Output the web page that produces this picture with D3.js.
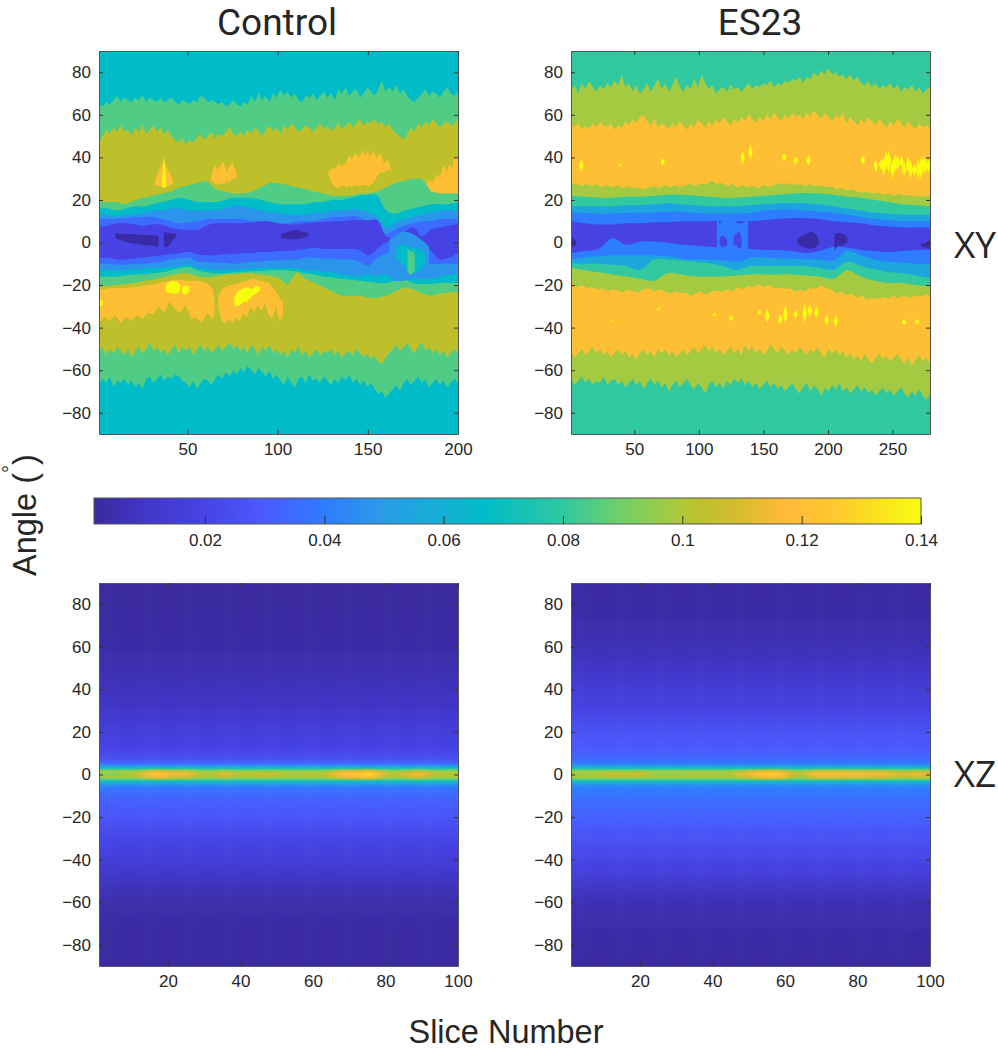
<!DOCTYPE html>
<html lang="en">
<head>
<meta charset="utf-8">
<title>Control vs ES23</title>
<script src="https://d3js.org/d3.v7.min.js"></script>
<style>
  body { margin: 0; background: #fff; }
  text { fill: #262626; }
  .tick text { font-family: "Liberation Sans", Arial, sans-serif; font-size: 17px; }
  .title { font-family: "Roboto", sans-serif; }
  .side { font-family: "Open Sans", sans-serif; }
  .label { font-family: "Liberation Sans", Arial, sans-serif; }
</style>
</head>
<body>
<script>
// colour bar
var colorValues = [0.0014, 0.01, 0.02, 0.03, 0.04, 0.05, 0.06, 0.067, 0.08, 0.09, 0.1, 0.103, 0.11, 0.117, 0.125, 0.14];
var colorStops = ["#3a2a9f", "#4136c8", "#4644e6", "#4a5bff", "#2f7bff", "#2a9ce6", "#14b0d4", "#00bcc8", "#30c8a0", "#72d068", "#b0c838", "#bdc02c", "#d8bc30", "#ffba3a", "#ffc630", "#f8fc10"];
var colorTicks = [0.02, 0.04, 0.06, 0.08, 0.1, 0.12, 0.14];
var angleTicks = [-80, -60, -40, -20, 0, 20, 40, 60, 80];

// XY Control: contour band edges, evenly spread over slices 1-200
var ctrlGreenTop = [65,64,66,65,67,69,66,68,67,66,68,67,69,66,68,67,66,68,66,67,68,66,65,67,66,65,67,66,69,68,66,67,66,65,66,64,65,67,65,64,66,65,69,66,70,67,69,66,70,68,72,69,71,68,70,67,66,69,68,70,67,69,71,68,70,67,72,70,73,69,71,72,68,70,73,71,69,72,76,71,73,71,74,70,72,69,67,66,68,70,72,69,71,70,68,71,73,70,69,71];
var ctrlGreenBot = [-67,-64,-66,-63,-68,-65,-66,-64,-67,-65,-68,-66,-69,-64,-63,-66,-64,-62,-65,-63,-64,-62,-63,-65,-66,-68,-65,-69,-66,-64,-65,-67,-64,-62,-64,-61,-63,-60,-62,-59,-61,-58,-60,-62,-59,-61,-63,-60,-64,-62,-65,-67,-63,-66,-68,-64,-63,-66,-62,-65,-64,-66,-63,-65,-67,-64,-66,-63,-65,-62,-66,-64,-67,-65,-68,-66,-69,-71,-70,-73,-71,-69,-67,-70,-66,-64,-67,-65,-63,-66,-64,-68,-66,-64,-67,-65,-68,-66,-64,-66];
var ctrlOliveTop = [47,50,53,51,54,52,55,52,53,50,54,52,55,51,53,55,52,54,51,53,50,48,47,49,46,48,47,49,51,48,50,52,49,51,50,52,54,51,50,52,50,53,51,54,52,50,53,55,52,54,51,55,53,56,54,52,53,55,54,52,54,56,53,55,52,54,56,53,55,57,54,56,58,55,57,56,58,55,57,54,56,53,51,50,48,51,54,52,56,54,57,55,58,56,54,56,57,55,56,58];
var ctrlOliveBot = [-52,-49,-53,-50,-52,-49,-51,-53,-50,-54,-51,-49,-52,-50,-47,-51,-49,-52,-50,-53,-50,-48,-52,-49,-51,-49,-53,-50,-48,-51,-49,-52,-50,-48,-51,-49,-47,-50,-48,-51,-49,-52,-48,-50,-53,-49,-51,-48,-52,-50,-53,-51,-54,-50,-52,-49,-53,-51,-54,-52,-50,-53,-51,-52,-50,-53,-51,-54,-52,-51,-53,-50,-52,-54,-52,-55,-53,-56,-57,-54,-52,-50,-48,-51,-49,-47,-50,-52,-49,-47,-51,-49,-52,-50,-53,-51,-54,-52,-50,-52];
var ctrlInGreenTop = [19,19,19,18,20,21,22,23,24,26,27,28,29,25,24,23,23,24,26,28,28,27,26,25,24,23,22,22,22,23,23,24,26,28,29,30,30,24,23,23,23];
var ctrlInGreenBot = [-20.5,-20.5,-20,-19.5,-19,-18,-17.5,-16.5,-15.5,-14.5,-14.5,-16,-16.5,-16,-15,-15,-14.5,-14.5,-15,-15.5,-16.5,-20,-14,-17,-19,-21,-23,-25,-25,-25,-26,-26,-25,-23,-21,-22,-24,-25,-24,-23.5,-23];
var ctrlTealTop = [16,16,15,16,17,17,18,19,20,21,20,19,19,19,20,21,21,21,20,19,18,18,18,18,19,19,20,20,21,22,22.5,22,15,13.5,15,16,17,18,18,18,19];
var ctrlTealBot = [-16,-16,-16,-15.5,-15,-15,-14.5,-14,-13,-12,-11.5,-13,-14,-14.5,-14.5,-14,-14,-13.5,-13.5,-13,-13,-13,-13.5,-14.5,-15,-16,-16.5,-17,-17.5,-18,-18.5,-19,-19,-18,-17,-19,-19.5,-19.5,-19,-19,-19];
var ctrlSkyTop = [13,13,12,13,13,14,15,15,16,16,15,15,15,15,16,17,17,16,15,14,14,13,13,13,14,14,15,15,15.5,15.5,14,12,7,9,11,12,13,14,15,15,15];
var ctrlSkyBot = [-13,-13,-13,-13,-12.5,-12.5,-12,-12,-11.5,-11,-10.5,-12,-12.5,-13,-13,-13,-12.5,-12.5,-12,-12,-12,-12,-12,-13,-13,-14,-14,-15,-15.5,-16,-15,-16,-15,-18,-18,-17,-17,-17,-16,-15,-15];
var ctrlBlueTop = [11,11,11,11.5,12,12,12,11,10,9,9.5,10,11,11,11,11,11,10,10,9,9,9,10,10,10,11,12,12,12.5,12,9,7,4,6,8,9,10,10,11,11,11];
var ctrlBlueBot = [-10,-10,-10.5,-10.5,-10,-10,-9.5,-9,-8,-7.5,-7,-9,-9,-9.5,-9.5,-10,-9.5,-9,-9,-8.5,-8.5,-8,-8,-7,-7,-7.5,-7.5,-8,-8,-9,-11,-7,-5,-3,-4,-7,-9,-10,-10,-10,-10];
var ctrlIndigoTop = [7.5,8,9,9,8.5,8,8.5,8.5,7,6,6,6,8,9,9,9,9,9.5,10,10,9,8.5,8.5,9,9.5,9.5,10,10,10.5,10.5,10.5,10.5,3,1.5,5,7,3,6,7,8,8.5];
var ctrlIndigoBot = [-7.5,-7,-8,-8,-7.5,-7,-6.5,-6,-5.5,-5,-4.5,-5.5,-6,-6,-5.5,-5.5,-5,-5,-4.5,-4.5,-4,-4,-3.5,-3,-2.5,-3,-3,-3,-3,-3.5,-6,-3,0,0,0,1,0,-4,-8,-7,-5];

// XY Control: islands inside the bands
var ctrlOrangeA = { s: [32,34,36,37,38,40,42], top: [29,33.5,36.5,40,36,33,29], bot: [26.5,26.5,26,26,26,26.5,28] };
var ctrlOrangeB = { s: [63,65,67,68,70,72,73,75,76,78], top: [30,36.5,34,36,38,33,35,37.7,35,31], bot: [29.5,28,27,28,27.5,29,28,30,30,31] };
var ctrlOrangeC = { s: [128,130,132,134,136,138,140,141,143,145,147,149,150,151,153,155,157,159,161,163], top: [33,34.5,35,37,36,38,41,39,42,40,43,41,44,40,43,40,42,37,39,34], bot: [32,28,26,25.6,27,26,27,26,27,26.5,27,27,26,27,28,31,33,33,34,34] };
var ctrlOrangeD = { s: [180,182,184,186,188,190,192,194,195,197,198,200], top: [23,26,29.5,28,32,31,36.5,33,37,35,39.7,40], bot: [22.5,23,23,23,23,23,23,23,23,23,23,23] };
var ctrlOrangeE = { s: [1,4,7,10,13,16,19,22,25,28,31,34,37,40,43,46,49,52,55,58,61,64,65], top: [-22,-22,-21.5,-21.5,-21.5,-21.5,-21,-21,-20.5,-20,-20,-19,-18.5,-18,-17.5,-17.5,-18,-18,-18,-18.5,-19,-22,-28], bot: [-38,-35,-37,-34,-38,-35,-37,-34,-36,-33,-34,-30,-33,-28,-31,-33,-29,-36,-35,-38,-33,-36,-34] };
var ctrlOrangeF = { s: [67,69,71,73,75,77,79,81,83,85,87,89,91,93,95,97,99,101,103], top: [-26,-22,-21,-20,-20,-19.5,-19,-18.5,-18,-17,-17,-18,-18,-18.5,-19,-21,-23,-26,-28], bot: [-30,-37,-38,-36,-38,-35,-37,-33,-35,-30,-33,-29,-32,-28,-34,-36,-30,-37,-34] };
var ctrlYellowA = { s: [36,37,38], top: [30,40,32], bot: [26,26,26] };
var ctrlYellowB = { s: [38,41,44,46], top: [-20,-18,-18.5,-20], bot: [-23,-24,-24,-23] };
var ctrlYellowC = { s: [47,49,51], top: [-21,-20,-21], bot: [-24,-24.5,-23] };
var ctrlYellowD = { s: [76,78,81,83,86,88,90], top: [-26,-23,-21.5,-21,-22,-20.5,-21], bot: [-29,-30,-28,-28,-25,-24,-23] };
var ctrlYellowE = { s: [1,2,3], top: [-27,-27,-27], bot: [-30,-30,-29] };
var ctrlDarkA = { s: [10,15,20,25,30,34], top: [4.5,4,4,3.5,3.5,3], bot: [2,0.5,-0.5,-1,-1.5,-2] };
var ctrlDarkB = { s: [37,39,41,44], top: [5,4.5,4.5,4], bot: [-2,-2,0,3] };
var ctrlDarkC = { s: [102,106,110,114,117], top: [4,5,6,5,4.5], bot: [2,1.5,1.5,2,3] };
var ctrlBumpSky = { s: [162,165,170,175,180,184], top: [1,3,5,4,1,-2], bot: [-13,-15,-15,-16,-16,-14] };
var ctrlBumpTeal = { s: [166,169,173,178,182], top: [-2,-1,-2,-3,-5], bot: [-8,-10,-14,-14,-9] };
var ctrlBumpGreen = { s: [172,174,176], top: [-3,-4,-5], bot: [-14,-15,-13] };

// XY ES23: contour band edges, evenly spread over slices 1-279
var esGreenTop = [71,74,70,75,72,76,73,71,74,72,75,73,76,74,79,73,75,71,74,70,72,75,71,74,77,72,75,71,74,78,73,71,74,72,77,73,79,75,72,74,70,72,73,71,74,72,73,71,73,75,72,74,73,75,74,76,73,75,74,76,75,77,76,78,75,78,77,80,78,81,79,82,79,80,78,79,77,79,76,78,75,74,76,73,75,72,74,73,75,72,74,71,73,72,74,71,73,70,72,73];
var esGreenBot = [-64,-67,-65,-63,-66,-64,-67,-65,-66,-63,-67,-65,-64,-67,-65,-68,-66,-64,-67,-65,-69,-66,-64,-67,-65,-68,-66,-70,-67,-65,-68,-66,-64,-67,-69,-66,-68,-71,-67,-65,-68,-66,-69,-65,-67,-64,-66,-64,-67,-65,-68,-66,-69,-67,-65,-68,-66,-69,-67,-70,-68,-66,-69,-71,-68,-66,-70,-67,-69,-72,-68,-70,-67,-69,-66,-70,-68,-71,-69,-67,-70,-68,-71,-69,-72,-70,-68,-71,-69,-72,-70,-68,-71,-73,-70,-72,-69,-72,-74,-71];
var esOrangeTop = [57,54,56,53,55,53,56,54,57,55,54,56,53,55,54,57,55,58,56,59,60,57,55,58,54,56,55,53,56,54,57,55,53,56,54,58,56,54,57,55,58,56,59,57,55,58,56,59,57,60,58,56,59,57,60,58,61,59,57,60,58,61,59,60,58,61,59,62,60,58,61,59,57,60,58,61,56,59,57,55,58,56,59,57,55,58,56,54,57,55,58,56,54,57,55,53,56,54,55,54];
var esOrangeBot = [-51,-54,-52,-50,-53,-51,-49,-52,-50,-53,-51,-54,-52,-50,-53,-51,-54,-52,-55,-52,-50,-53,-51,-54,-50,-52,-50,-53,-51,-54,-52,-50,-53,-51,-49,-52,-50,-48,-51,-49,-52,-50,-53,-51,-49,-52,-50,-53,-48,-51,-49,-52,-50,-53,-51,-48,-50,-52,-49,-51,-53,-50,-52,-49,-51,-53,-50,-52,-49,-52,-54,-50,-52,-50,-53,-51,-54,-52,-55,-53,-56,-52,-55,-57,-54,-52,-55,-53,-56,-54,-52,-55,-57,-54,-58,-55,-53,-56,-54,-57];
var esInGreenTop = [27,28,26.5,27.5,26.5,27.5,26,27,26,27,25.5,26.5,25.5,26,25,26,26.5,25.5,27,26,27,26,27,27.5,26.5,28,27,29,27.5,28,26.5,27.5,26,27,26,26.5,25.5,27,26,27,28,27,28,27,27.5,26.5,27.5,26.5,27,26,26.5,25,25.5,24.5,25,24,23.5,24,23,23.5,22.5,23,22,23,22,22.5,21.5,22,21.5,22];
var esInGreenBot = [-19,-21,-20,-21.5,-21,-22,-21.5,-23,-22,-22.5,-23.5,-22,-23,-23.5,-22,-21.5,-23,-22,-23,-24,-23,-24,-23.5,-25,-24,-23,-24.5,-23,-22.5,-23.5,-22,-23,-21,-22,-20.5,-21,-19.5,-21,-20,-21.5,-21,-22,-21.5,-23,-22,-23,-21,-22,-20,-21.5,-22,-24,-23,-25,-24,-26,-25,-27,-26,-26.5,-25.5,-26.5,-25,-26,-25,-26,-25,-25.5,-24.5,-25];
var esTealTop = [21.7,21.5,21,21,21.5,21.5,22,22.5,22.5,22,21.5,21,21,21.5,22,22.5,23,23.3,23,22.5,21.5,21,20,19,18,17.5,17];
var esTealBot = [-12,-13,-14,-15,-16,-17,-18,-14.5,-15,-16,-16,-16,-15.5,-15,-15,-15,-15,-15.5,-16,-17,-13,-16,-18,-19,-19,-20,-20.6];
var esSkyTop = [17,17,17,17,17.5,17.5,18,18.5,18,17.5,17,17,17,17.5,18,18.5,18.5,18.5,18,17,16,15,14,13.5,13,13,13];
var esSkyBot = [-9.7,-10,-10,-10.5,-11,-12.8,-8,-8,-8.5,-9,-9.7,-11,-12.8,-11,-11,-11,-11,-11,-12,-12.8,-9,-11,-12.5,-14,-14.5,-15.5,-16.7];
var esBlueTop = [14,14,13.5,13.5,14,14,14,14.5,14.5,14,13.5,13.5,13.5,14,15,15.5,15.5,15,14.5,14,13,12,11,10.5,10,10,10];
var esBlueBot = [-8,-7,-6.5,-6,-6,-6,-6,-6.5,-7.5,-8,-8,-8.5,-9,-7,-7,-7.5,-7.5,-8,-8,-8.5,-4,-6,-8,-9,-9.5,-10,-10];
var esIndigoTop = [10,9,8.5,8.5,9,9,9.5,9.5,10,10,10,10,10,10,10.5,11,11.5,11.5,11,10,9.5,9,8,7.5,7,7,7];
var esIndigoBot = [-5,-4,-3,2,-1,0.5,0.5,0,-1,-1.5,-2,-2.5,-2.5,-3,-3.5,-3.5,-4,-5,-4,-2,-2.5,-3.5,-4,-4.5,-4,-3.5,-3.5];

// XY ES23: islands
var esGapBlue = { s: [114,116,118,122,127,131,134,136,138], top: [13,9,10,10,10,9,9,10,13], bot: [-2,-4,-3,-4,-4,-6,-9,-6,-3] };
var esGapIndigoA = { s: [116,118,120,122], top: [2,3,2.5,1], bot: [-1,-2,-2,-1] };
var esGapIndigoB = { s: [127,129,131,133], top: [3,4,5,2], bot: [-2,-1,-3,-2] };
var esDarkA = { s: [1,3,5], top: [3,2,1], bot: [-2,-2,-1] };
var esDarkB = { s: [176,179,183,187,191,193], top: [1,3,4,5,3.5,1], bot: [-0.5,-1.5,-2.5,-3,-2,-0.5] };
var esDarkC = { s: [205,208,212,215], top: [4,4.5,4,2], bot: [-3.5,-1.5,-1,0] };
var esDarkD = { s: [272,276,279], top: [-0.5,0,1], bot: [-2,-2.5,-3] };

// yellow flecks: slice, upper angle, lower angle
var esFleckSlice = [9,39,72,134,140,166,175,185,227,237,241,245,247,250,254,257,262,267,272,276,278,33,69,112,125,147,153,163,167,175,182,186,191,199,206,259,269,243,252,259,264,270,274];
var esFleckTop = [39,37,39.7,43,46,42,40.5,41,41,39,39,43,43.6,39,41,41,40.5,37,40.5,39.7,39,-36.5,-30.5,-33,-34,-31.5,-31,-34,-29,-31.5,-28.5,-29,-30,-34,-34,-36,-36,40,42,38,39,39,41];
var esFleckBot = [33,35.6,36,36.5,39,38,36.5,36,36.5,33,34.5,33.5,32.7,29.5,34,35,32.7,31,29.5,32.7,33,-37.5,-32,-35,-37,-34,-38,-38.5,-38.5,-36,-38,-35,-35.5,-39,-40,-39,-38.5,31,33,31,30,30,32];

// band levels (value drawn in each contour band)
var ctrlBase = 0.067, ctrlGreen = 0.085, ctrlOlive = 0.103, ctrlOrange = 0.12, ctrlYellow = 0.14;
var esBase = 0.08, esGreen = 0.098, esOrange = 0.12, esYellow = 0.14;
var innerSkyCtrl = 0.048, innerBlueCtrl = 0.035, innerIndigo = 0.019, innerDark = 0.003;
var esInnerSky = 0.055, esInnerBlue = 0.04;

// XZ panels: angle profile plus ridge along the slices (one value every 2 slices)
var xzAngles = [90,75,60,45,30,20,12,8,6,5,4,3,2,1,0,-1,-2,-3,-4,-5,-6,-8,-12,-20,-30,-45,-60,-75,-90];
var ctrlProfile = [.0015,.0018,.003,.006,.011,.016,.02,.024,.03,.036,.05,.07,.09,.1,.1,.1,.09,.072,.056,.046,.04,.036,.032,.027,.021,.012,.004,.002,.002];
var esProfile = [.002,.003,.006,.012,.019,.026,.03,.033,.037,.042,.052,.07,.09,.1,.1,.1,.09,.072,.056,.046,.042,.039,.036,.032,.026,.017,.006,.003,.002];
var ctrlRidge = [.09,.09,.09,.095,.098,.105,.115,.12,.122,.118,.115,.116,.115,.103,.1,.1,.104,.113,.105,.102,.104,.104,.106,.106,.105,.102,.098,.095,.098,.098,.1,.104,.113,.118,.12,.122,.125,.13,.12,.112,.102,.1,.108,.112,.116,.112,.103,.1,.1,.1];
var esRidge = [.095,.096,.096,.098,.1,.105,.108,.102,.106,.108,.1,.094,.092,.092,.093,.093,.098,.098,.096,.098,.097,.095,.1,.112,.113,.118,.122,.125,.125,.12,.11,.105,.103,.115,.118,.119,.118,.117,.118,.116,.117,.116,.115,.116,.113,.11,.11,.112,.114,.112];

// layout
var panelW = 359, panelH = 383;
var leftX = 99, rightX = 571, topY = 51, bottomY = 583;

var svg = d3.select("body").append("svg").attr("width", 998).attr("height", 1050).style("display", "block");
var defs = svg.append("defs");
defs.append("filter").attr("id", "soft").append("feGaussianBlur").attr("stdDeviation", 0.45);
defs.append("filter").attr("id", "softX").attr("x", "-5%").attr("width", "110%")
    .append("feGaussianBlur").attr("stdDeviation", "3 0");

var color = d3.scaleLinear().domain(colorValues).range(colorStops).clamp(true);

function addPanel(id, x0, y0, maxSlice, sliceTicks) {
    var x = d3.scaleLinear().domain([1, maxSlice]).range([0, panelW]);
    var y = d3.scaleLinear().domain([-90, 90]).range([panelH, 0]);
    var g = svg.append("g").attr("transform", "translate(" + x0 + "," + y0 + ")");
    defs.append("clipPath").attr("id", "clip" + id).append("rect").attr("width", panelW).attr("height", panelH);
    var plot = g.append("g").attr("clip-path", "url(#clip" + id + ")");
    return { x: x, y: y, g: g, plot: plot, ticks: sliceTicks };
}

function addFrame(p) {
    var g = p.g;
    function styled(sel) {
        sel.selectAll(".domain").attr("stroke", "#555").attr("stroke-width", 1);
        sel.selectAll(".tick line").attr("stroke", "#333");
        return sel;
    }
    styled(g.append("g").call(d3.axisLeft(p.y).tickValues(angleTicks).tickSize(-4).tickSizeOuter(0).tickPadding(8)));
    styled(g.append("g").attr("transform", "translate(0," + panelH + ")")
        .call(d3.axisBottom(p.x).tickValues(p.ticks).tickSize(-4).tickSizeOuter(0).tickPadding(9)));
    styled(g.append("g").attr("transform", "translate(" + panelW + ",0)")
        .call(d3.axisRight(p.y).tickValues(angleTicks).tickSize(-4).tickSizeOuter(0).tickFormat("")));
    styled(g.append("g")
        .call(d3.axisTop(p.x).tickValues(p.ticks).tickSize(-4).tickSizeOuter(0).tickFormat("")));
}

// edge arrays are spread evenly over the slice range
function edgePoints(p, edge) {
    var idx = d3.scaleLinear().domain([0, edge.length - 1]).range(p.x.domain());
    return edge.map(function (v, i) { return [p.x(idx(i)), p.y(v)]; });
}

var outline = d3.line();
var rounded = d3.line().curve(d3.curveCatmullRom);

function closedPath(gen, upper, lower) {
    return gen(upper) + "L" + gen(lower).slice(1) + "Z";
}

function bandBetween(layer, p, top, bot, value, gen) {
    var d = closedPath(gen || outline, edgePoints(p, top), edgePoints(p, bot).reverse());
    layer.append("path").attr("d", d).attr("fill", color(value));
}

function island(layer, p, blob, value, gen) {
    var upper = blob.s.map(function (s, i) { return [p.x(s), p.y(blob.top[i])]; });
    var lower = blob.s.map(function (s, i) { return [p.x(s), p.y(blob.bot[i])]; }).reverse();
    layer.append("path").attr("d", closedPath(gen || outline, upper, lower)).attr("fill", color(value));
}

function flecks(layer, p, value) {
    layer.selectAll("path.fleck").data(esFleckSlice).enter().append("path")
        .attr("class", "fleck")
        .attr("fill", color(value))
        .attr("d", function (s, i) {
            var mid = (esFleckTop[i] + esFleckBot[i]) / 2;
            return outline([[p.x(s - 1.8), p.y(mid)], [p.x(s), p.y(esFleckTop[i])], [p.x(s + 1.8), p.y(mid)], [p.x(s), p.y(esFleckBot[i])]]) + "Z";
        });
}

function heatPanel(p, profile, ridge, id) {
    var step = panelW / ridge.length;
    var layer = p.plot.append("g").attr("filter", "url(#softX)");
    ridge.forEach(function (r, i) {
        var gradId = "grad" + id + i;
        var grad = defs.append("linearGradient").attr("id", gradId).attr("x1", 0).attr("x2", 0).attr("y1", 0).attr("y2", 1);
        xzAngles.forEach(function (a, k) {
            var v = profile[k];
            if (Math.abs(a) <= 1) v = a === 0 ? r : Math.max(v, r * 0.96);
            else if (Math.abs(a) === 2) v = Math.max(v, r * 0.84);
            grad.append("stop").attr("offset", (90 - a) / 180).attr("stop-color", color(v));
        });
        var left = i === 0 ? -12 : i * step;
        var right = i === ridge.length - 1 ? panelW + 12 : (i + 1) * step + 0.5;
        layer.append("rect").attr("x", left).attr("y", 0).attr("width", right - left).attr("height", panelH)
            .attr("fill", "url(#" + gradId + ")");
    });
}

// Control XY
var a = addPanel("a", leftX, topY, 200, [50, 100, 150, 200]);
a.plot.append("rect").attr("width", panelW).attr("height", panelH).attr("fill", color(ctrlBase));
var aLayer = a.plot.append("g").attr("filter", "url(#soft)");
bandBetween(aLayer, a, ctrlGreenTop, ctrlGreenBot, ctrlGreen);
bandBetween(aLayer, a, ctrlOliveTop, ctrlOliveBot, ctrlOlive);
[ctrlOrangeA, ctrlOrangeB, ctrlOrangeC, ctrlOrangeD, ctrlOrangeE, ctrlOrangeF].forEach(function (b) { island(aLayer, a, b, ctrlOrange); });
[ctrlYellowA, ctrlYellowB, ctrlYellowC, ctrlYellowD, ctrlYellowE].forEach(function (b) { island(aLayer, a, b, ctrlYellow); });
bandBetween(aLayer, a, ctrlInGreenTop, ctrlInGreenBot, ctrlGreen);
bandBetween(aLayer, a, ctrlTealTop, ctrlTealBot, ctrlBase, rounded);
bandBetween(aLayer, a, ctrlSkyTop, ctrlSkyBot, innerSkyCtrl, rounded);
bandBetween(aLayer, a, ctrlBlueTop, ctrlBlueBot, innerBlueCtrl, rounded);
bandBetween(aLayer, a, ctrlIndigoTop, ctrlIndigoBot, innerIndigo, rounded);
[ctrlDarkA, ctrlDarkB, ctrlDarkC].forEach(function (b) { island(aLayer, a, b, innerDark, rounded); });
island(aLayer, a, ctrlBumpSky, innerSkyCtrl, rounded);
island(aLayer, a, ctrlBumpTeal, ctrlBase, rounded);
island(aLayer, a, ctrlBumpGreen, ctrlGreen, rounded);
addFrame(a);

// ES23 XY
var b = addPanel("b", rightX, topY, 279, [50, 100, 150, 200, 250]);
b.plot.append("rect").attr("width", panelW).attr("height", panelH).attr("fill", color(esBase));
var bLayer = b.plot.append("g").attr("filter", "url(#soft)");
bandBetween(bLayer, b, esGreenTop, esGreenBot, esGreen);
bandBetween(bLayer, b, esOrangeTop, esOrangeBot, esOrange);
flecks(bLayer, b, esYellow);
bandBetween(bLayer, b, esInGreenTop, esInGreenBot, esGreen);
bandBetween(bLayer, b, esTealTop, esTealBot, esBase, rounded);
bandBetween(bLayer, b, esSkyTop, esSkyBot, esInnerSky, rounded);
bandBetween(bLayer, b, esBlueTop, esBlueBot, esInnerBlue, rounded);
bandBetween(bLayer, b, esIndigoTop, esIndigoBot, innerIndigo, rounded);
island(bLayer, b, esGapBlue, esInnerBlue, rounded);
[esGapIndigoA, esGapIndigoB].forEach(function (d) { island(bLayer, b, d, innerIndigo, rounded); });
[esDarkA, esDarkB, esDarkC, esDarkD].forEach(function (d) { island(bLayer, b, d, innerDark, rounded); });
addFrame(b);

// XZ panels
var c = addPanel("c", leftX, bottomY, 100, [20, 40, 60, 80, 100]);
heatPanel(c, ctrlProfile, ctrlRidge, "c");
addFrame(c);
var d = addPanel("d", rightX, bottomY, 100, [20, 40, 60, 80, 100]);
heatPanel(d, esProfile, esRidge, "d");
addFrame(d);

// colour bar
var barX = d3.scaleLinear().domain([0.0014, 0.14]).range([94, 921]);
var barGrad = defs.append("linearGradient").attr("id", "barGrad");
colorValues.forEach(function (v, i) {
    barGrad.append("stop").attr("offset", (barX(v) - 94) / (921 - 94)).attr("stop-color", colorStops[i]);
});
svg.append("rect").attr("x", 94).attr("y", 498).attr("width", 827).attr("height", 26)
    .attr("fill", "url(#barGrad)").attr("stroke", "#555").attr("stroke-width", 1);
var barAxis = svg.append("g").attr("transform", "translate(0,524)")
    .call(d3.axisBottom(barX).tickValues(colorTicks).tickFormat(d3.format("")).tickSize(-8).tickSizeOuter(0).tickPadding(10));
barAxis.select(".domain").remove();
barAxis.selectAll(".tick line").attr("stroke", "#333");

// titles and labels
function titleText(str, tx, ty, size, cls) {
    return svg.append("text").attr("class", cls).attr("x", tx).attr("y", ty)
        .attr("text-anchor", "middle").attr("font-size", size).attr("fill", "#111").text(str);
}
titleText("Control", 277, 35, 37, "title");
titleText("ES23", 760, 35, 37, "title");
titleText("XY", 975, 258, 37, "side");
titleText("XZ", 975, 787, 37, "side");

svg.append("text").attr("class", "label").attr("x", 506).attr("y", 1043)
    .attr("text-anchor", "middle").attr("font-size", 32.5).text("Slice Number");

var angleLabel = svg.append("text").attr("class", "label")
    .attr("transform", "translate(36,576) rotate(-90)")
    .attr("font-size", 32.5);
angleLabel.append("tspan").text("Angle (");
angleLabel.append("tspan").attr("dy", -19).attr("font-size", 20).text("°");
angleLabel.append("tspan").attr("dy", 19).text(")");
</script>
</body>
</html>
